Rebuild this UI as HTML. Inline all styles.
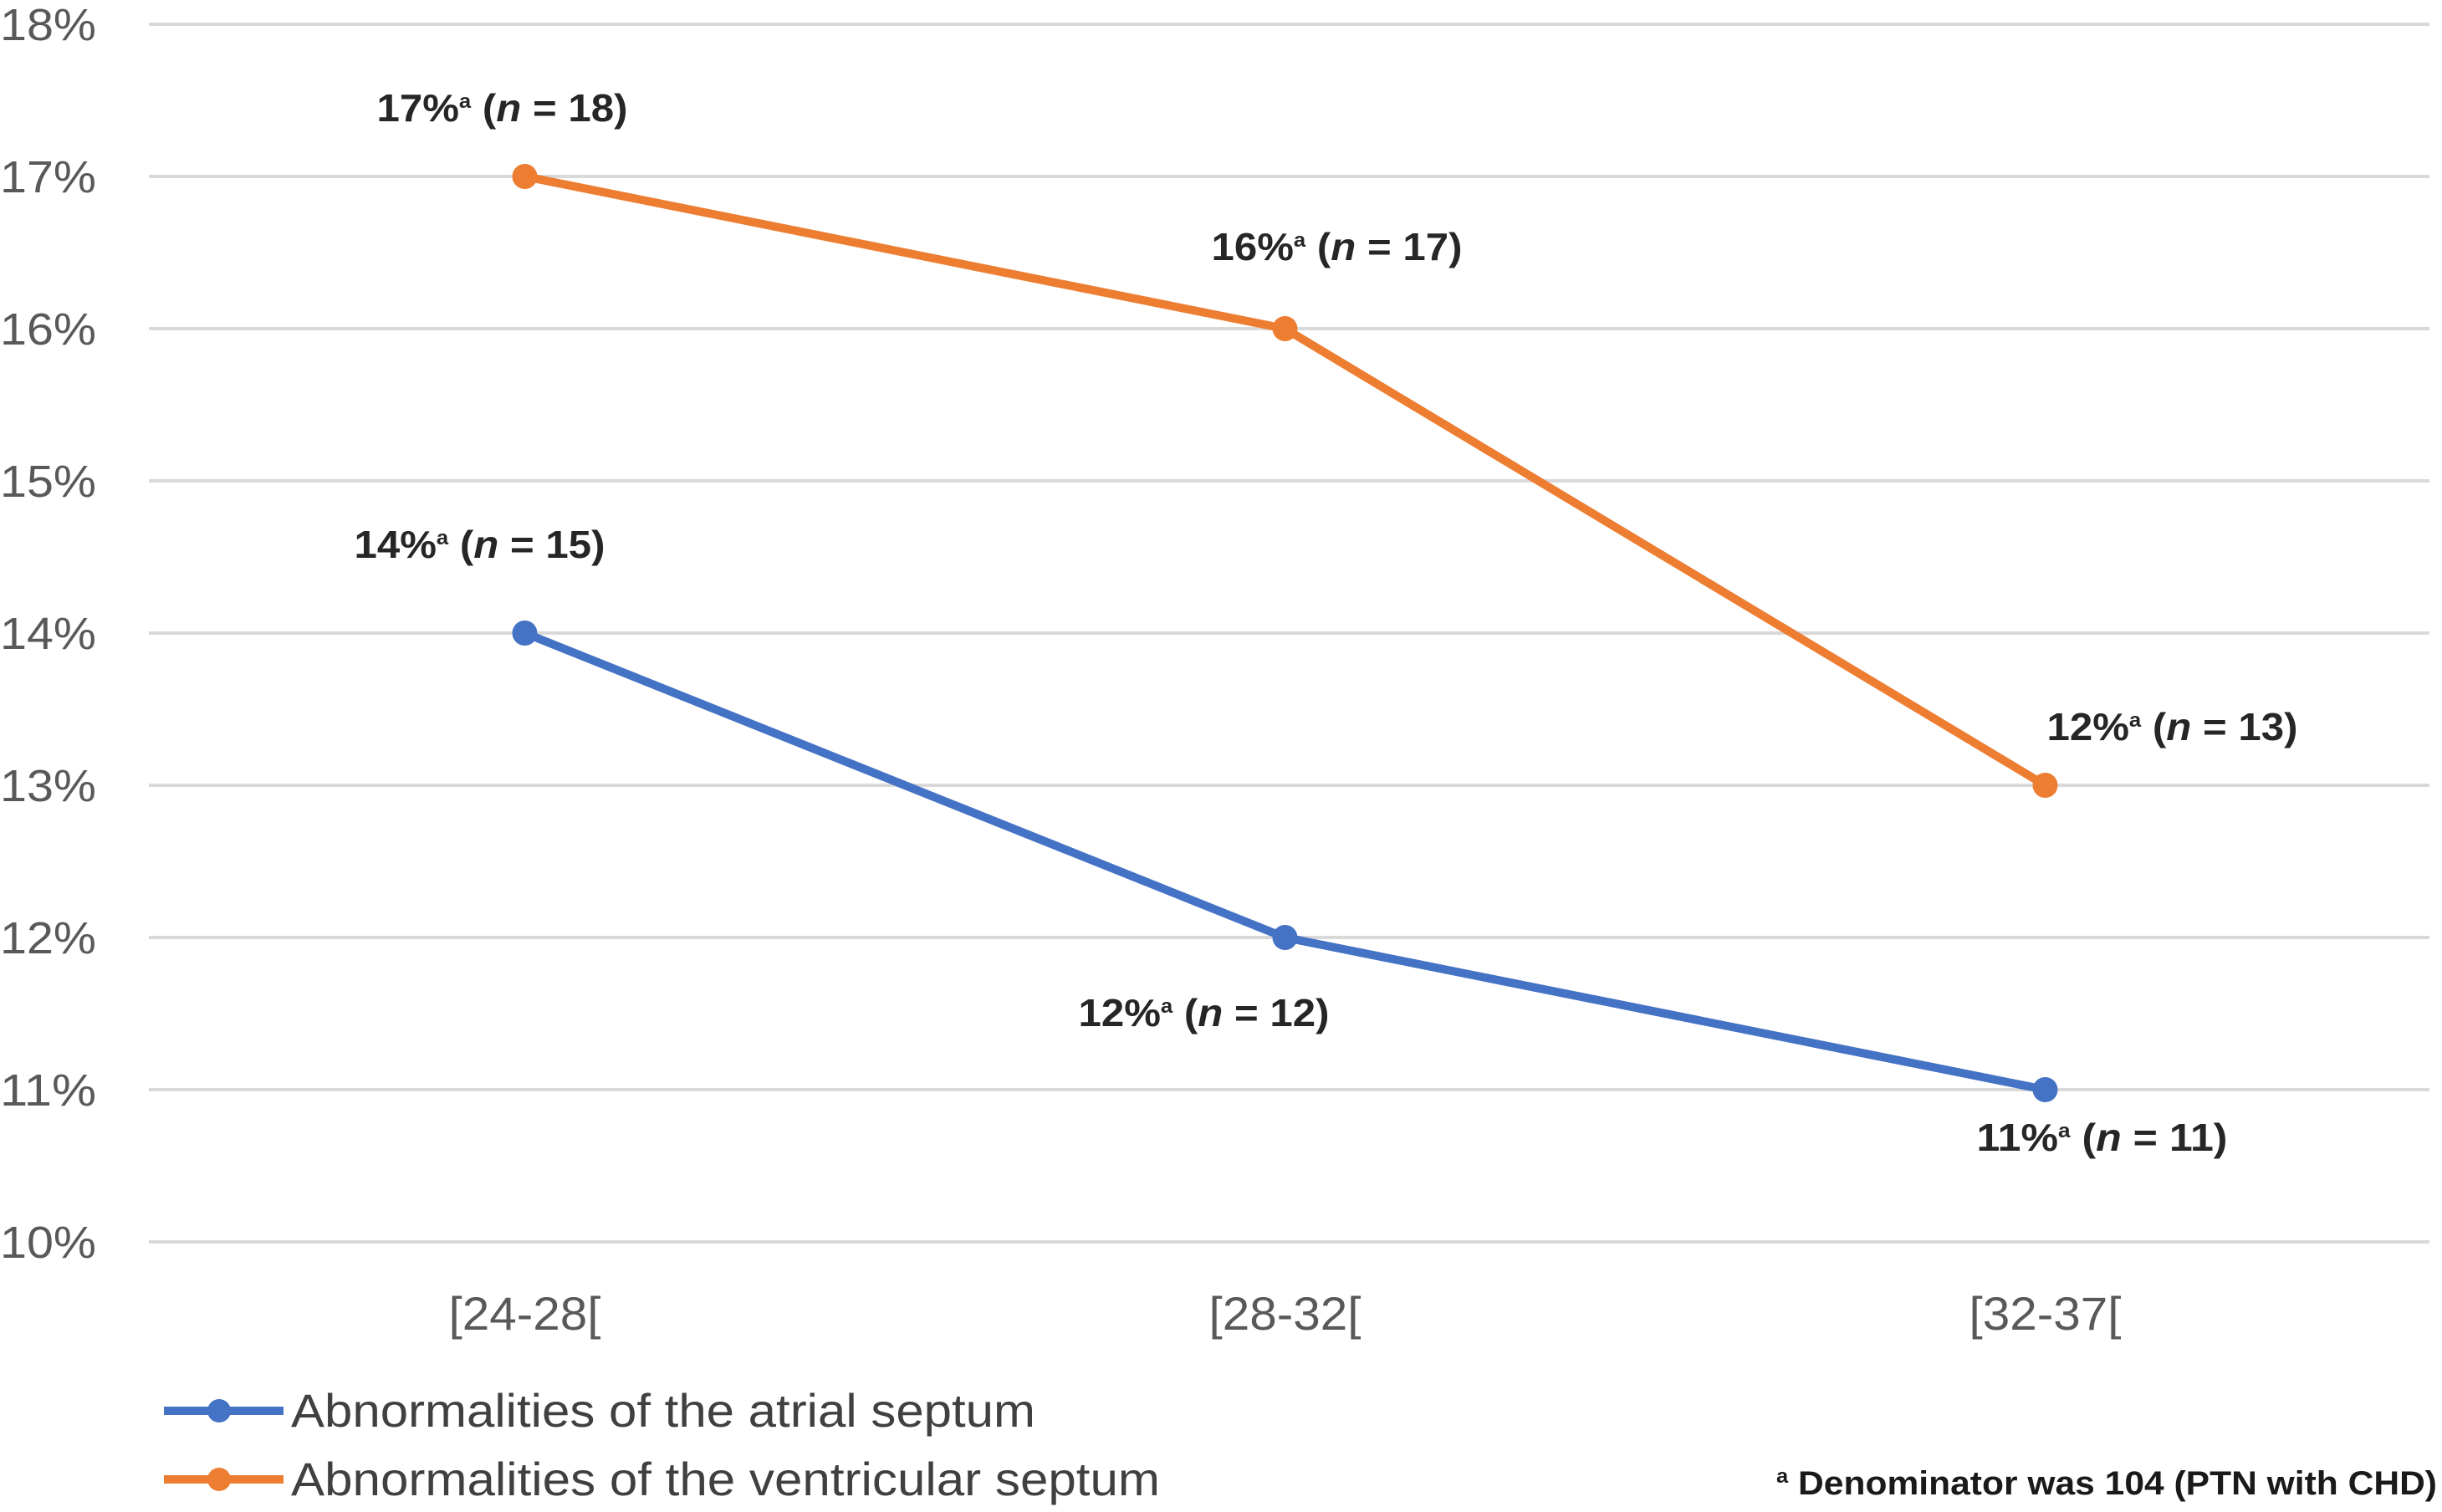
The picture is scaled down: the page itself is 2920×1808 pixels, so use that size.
<!DOCTYPE html>
<html><head><meta charset="utf-8"><style>
html,body{margin:0;padding:0;background:#fff;}
svg{display:block;font-family:"Liberation Sans",sans-serif;}
</style></head><body>
<svg id="chart" width="2920" height="1808" viewBox="0 0 2920 1808">
<g id="grid"></g>
<g id="yaxis"></g>
<g id="xaxis"></g>
<g id="series"></g>
<g id="labels"></g>
<g>
  <g>
    <line x1="196" y1="1687" x2="339" y2="1687" stroke="#4472C4" stroke-width="10"/>
    <circle cx="262" cy="1687" r="14" fill="#4472C4"/>
    <text x="348" y="1706" font-size="56" fill="#404040" textLength="890" lengthAdjust="spacingAndGlyphs">Abnormalities of the atrial septum</text>
  </g>
  <g>
    <line x1="196" y1="1769" x2="339" y2="1769" stroke="#ED7D31" stroke-width="10"/>
    <circle cx="262" cy="1769" r="14" fill="#ED7D31"/>
    <text x="348" y="1788" font-size="56" fill="#404040" textLength="1039" lengthAdjust="spacingAndGlyphs">Abnormalities of the ventricular septum</text>
  </g>
</g>
<text x="2914" y="1787" font-size="40" fill="#1a1a1a" text-anchor="end" font-weight="bold" textLength="790" lengthAdjust="spacingAndGlyphs"><tspan font-size="24" dy="-14">a</tspan><tspan dy="14"> Denominator was 104 (PTN with CHD)</tspan></text>
</svg>
<script>
const categories = ["[24-28[", "[28-32[", "[32-37["];
const atrialValues = [14, 12, 11];
const ventricularValues = [17, 16, 13];
const atrialN = [15, 12, 11];
const ventricularN = [18, 17, 13];
const atrialPrinted = [14, 12, 11];
const ventricularPrinted = [17, 16, 12];
const yTicks = [10, 11, 12, 13, 14, 15, 16, 17, 18];

const NS = "http://www.w3.org/2000/svg";
const plotL = 178, plotR = 2905, yTop = 29, yBot = 1485, yMin = 10, yMax = 18;
function x(i){ return plotL + (plotR - plotL) / categories.length * (i + 0.5) - 5; }
function y(v){ return yBot - (v - yMin) / (yMax - yMin) * (yBot - yTop); }
function mk(tag, attrs, parent){ const e = document.createElementNS(NS, tag); for (const k in attrs) e.setAttribute(k, attrs[k]); parent.appendChild(e); return e; }

const grid = document.getElementById('grid'), yaxis = document.getElementById('yaxis'), xaxis = document.getElementById('xaxis');
yTicks.forEach(t => {
  const l = mk('line', {x1: plotL, x2: plotR, y1: y(t), y2: y(t), stroke: '#d9d9d9', 'stroke-width': 4}, grid);
  
  
  const tx = mk('text', {x: 0, y: y(t) + 19, 'font-size': 54, fill: '#595959', textLength: 115, lengthAdjust: 'spacingAndGlyphs'}, yaxis);
  tx.textContent = t + '%';
  
  
});
categories.forEach((c, i) => {
  const tx = mk('text', {x: x(i), y: 1590, 'font-size': 56, fill: '#595959', 'text-anchor': 'middle', textLength: 182, lengthAdjust: 'spacingAndGlyphs'}, xaxis);
  tx.textContent = c;
  
  
});

const series = document.getElementById('series'), labels = document.getElementById('labels');
function drawSeries(vals, printed, ns, color, name, offsets){
  const pts = vals.map((v, i) => x(i) + ',' + y(v)).join(' ');
  const pl = mk('polyline', {points: pts, fill: 'none', stroke: color, 'stroke-width': 10, 'stroke-linejoin': 'round'}, series);
  
  
  vals.forEach((v, i) => {
    const c = mk('circle', {cx: x(i), cy: y(v), r: 15, fill: color}, series);
    
    
    const t = mk('text', {x: x(i) + offsets[i][0], y: y(v) + offsets[i][1], 'font-size': 46, fill: '#262626', 'text-anchor': 'middle', 'font-weight': 'bold', textLength: 300, lengthAdjust: 'spacingAndGlyphs'}, labels);
    
    
    t.innerHTML = printed[i] + '%<tspan font-size="24" dy="-16">a</tspan><tspan dy="16"> (</tspan><tspan font-style="italic">n</tspan> = ' + ns[i] + ')';
  });
}
drawSeries(ventricularValues, ventricularPrinted, ventricularN, '#ED7D31', 'ventricular', [[-27, -66], [62, -82], [152, -54]]);
drawSeries(atrialValues, atrialPrinted, atrialN, '#4472C4', 'atrial', [[-54, -90], [-97, 106], [68, 73]]);
</script>
</body></html>
